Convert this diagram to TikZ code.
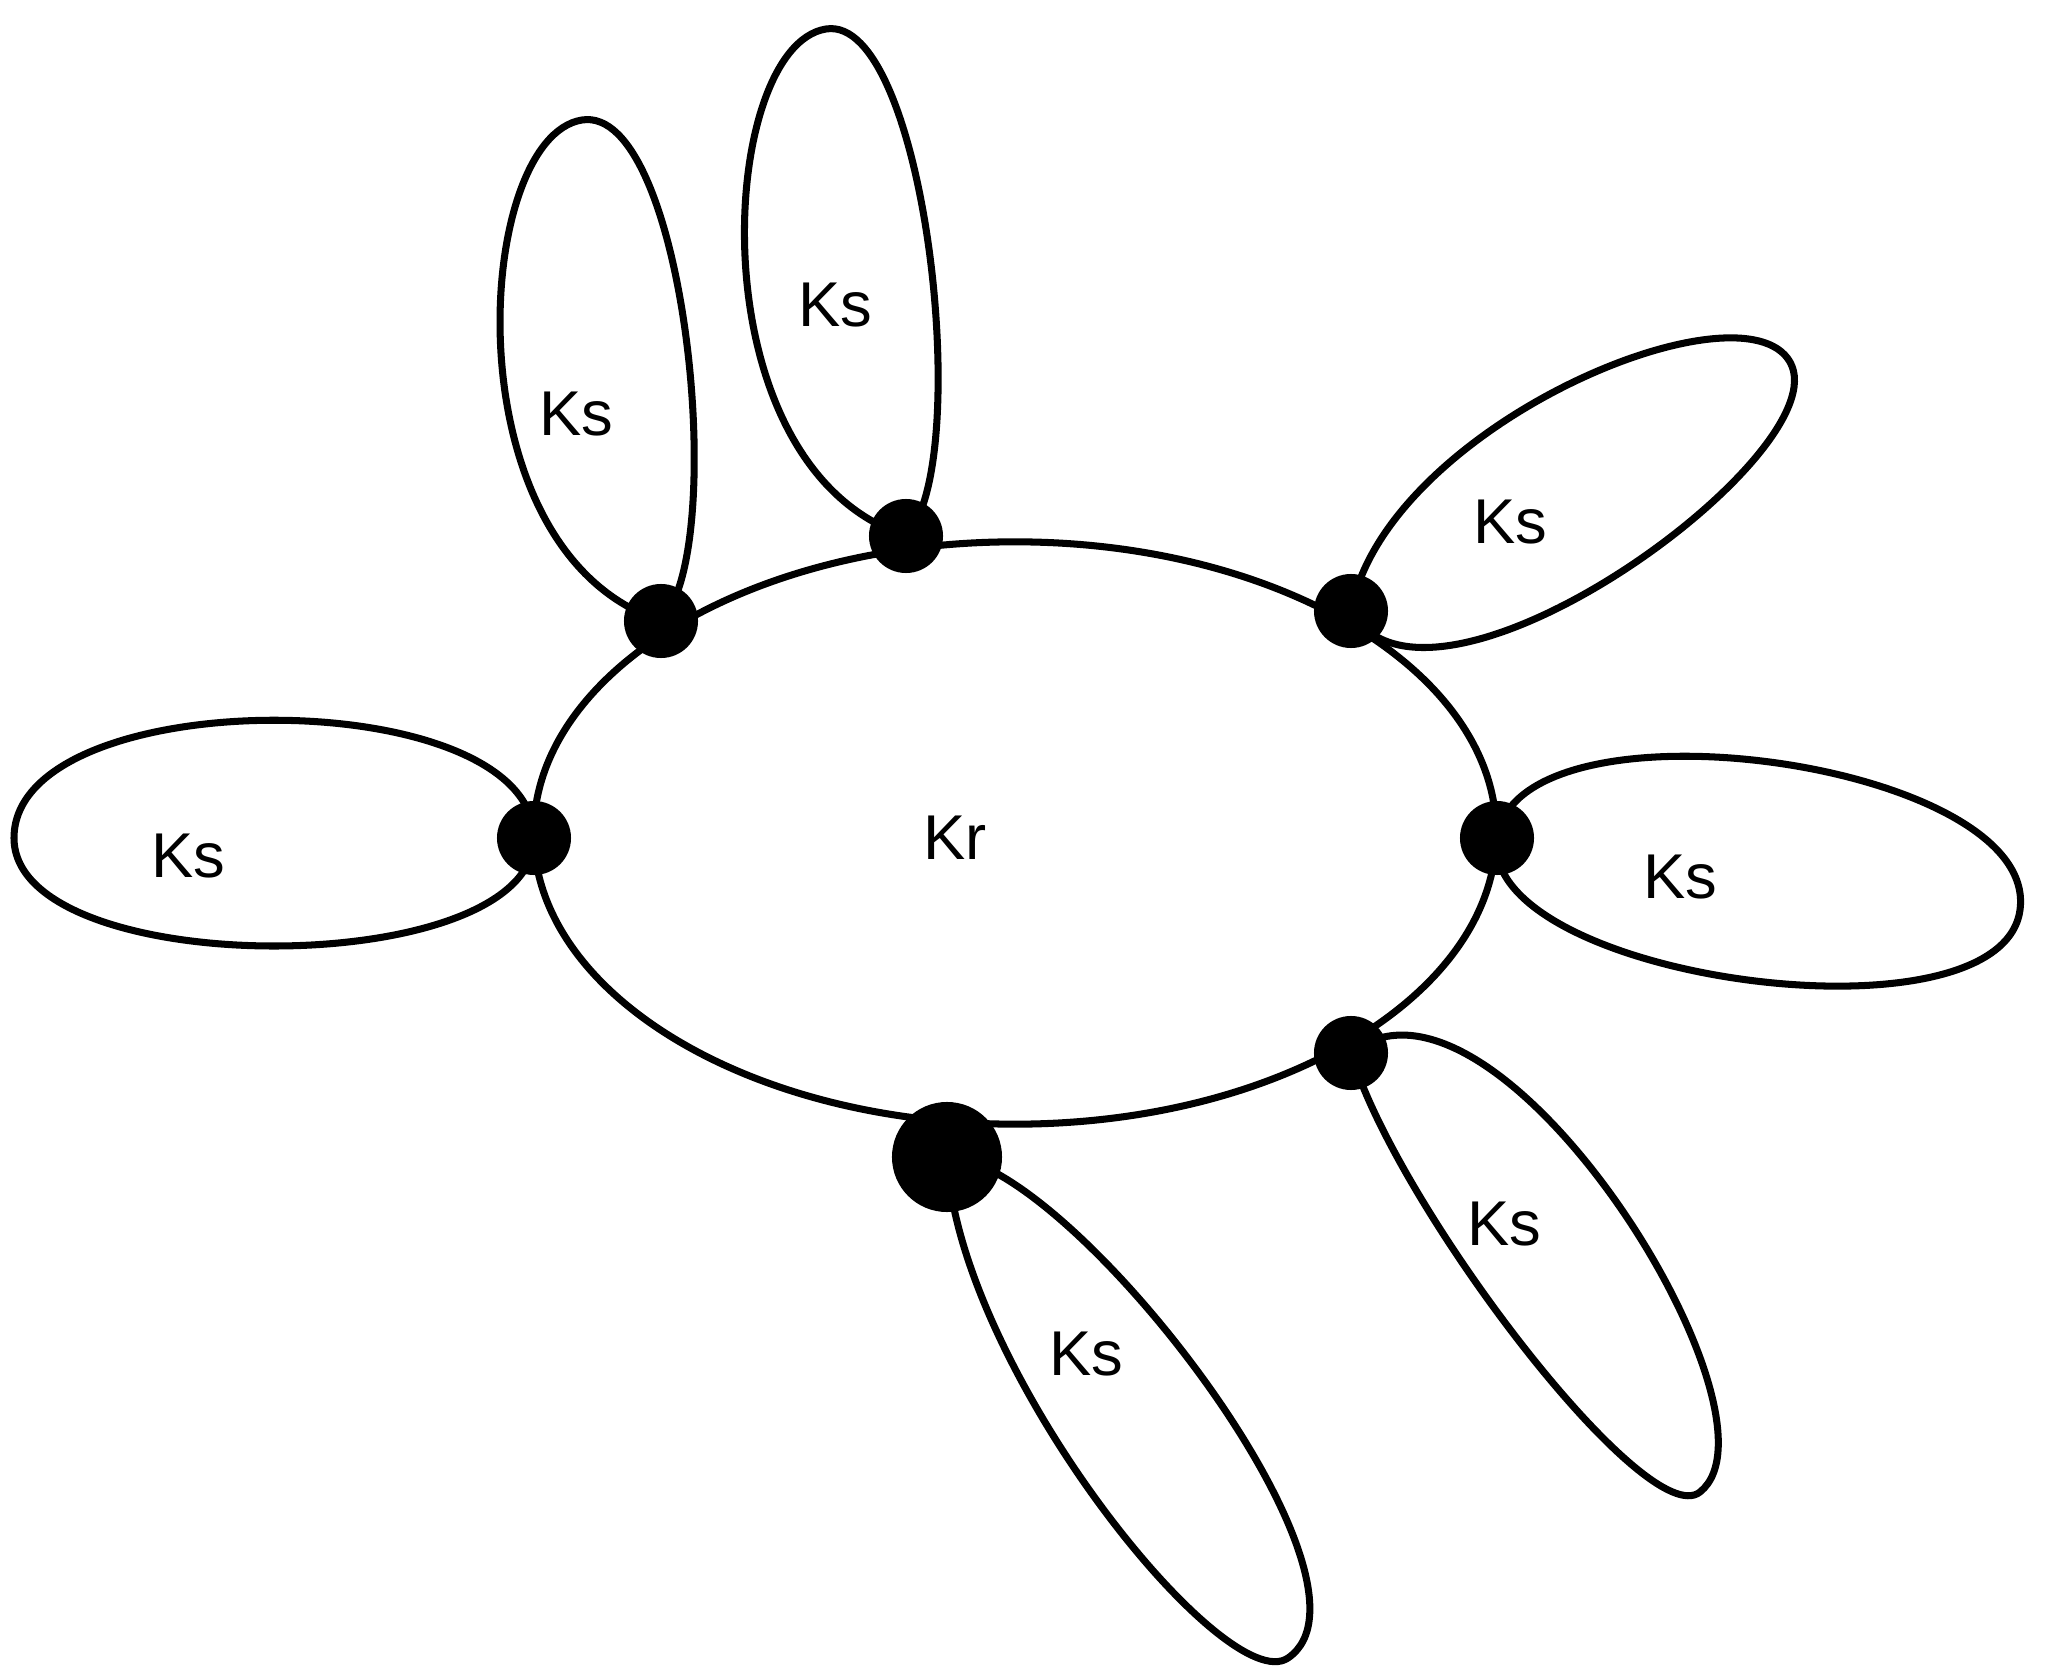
\documentclass[tikz,border=0pt]{standalone}
\usepackage{fontspec}
\setmainfont{Liberation Sans}
\usetikzlibrary{shapes.geometric}

\begin{document}
\begin{tikzpicture}[
    x=0.01cm, y=-0.01cm,
    line width=2pt,
    ring/.style={draw, ellipse, inner sep=0pt, minimum width=96.2mm, minimum height=58.2mm},
    dot/.style={circle, fill, inner sep=0pt, minimum size=7.4mm},
    bigdot/.style={dot, minimum size=11mm},
    ks/.style={font=\fontsize{18}{20}\selectfont, inner sep=0pt}
]
\useasboundingbox (0,0) rectangle (2047,1676);

% Centre ring
\node[ring] (kr) at (1015,833) {};
\node[ks] (krtext) at (955,838) {Kr};

% Joints on the ring
\node[dot] (d1) at (661,621) {};
\node[dot] (d2) at (906,536) {};
\node[dot] (d3) at (1351,611) {};
\node[dot] (d4) at (1497,838) {};
\node[dot] (d5) at (1351,1053) {};
\node[bigdot] (d6) at (947,1157) {};
\node[dot] (d7) at (534,838) {};

% Far ends of the petals
\coordinate (t1) at (582,120);
\coordinate (t2) at (826,29);
\coordinate (t3) at (1790,362);
\coordinate (t4) at (2020,910);
\coordinate (t5) at (1700,1492);
\coordinate (t6) at (1288,1658);
\coordinate (t7) at (14,838);

% Petals, each a loop from its joint back to it
\draw (d1.center) .. controls +(-46:100) and +(-9:104) .. (t1) .. controls +(171:110) and +(-162:224) .. (d1.center);
\draw (d2.center) .. controls +(-46:100) and +(-9:100) .. (t2) .. controls +(171:110) and +(-162:224) .. (d2.center);
\draw (d3.center) .. controls +(-79.4:187) and +(-119.6:97) .. (t3) .. controls +(60.4:105) and +(60.4:160) .. (d3.center);
\draw (d4.center) .. controls +(-82.2:150) and +(-82.2:150) .. (t4) .. controls +(97.8:142) and +(97.8:142) .. (d4.center);
\draw (d5.center) .. controls +(73.6:158) and +(141.3:68) .. (t5) .. controls +(-38.7:122) and +(-38.7:185) .. (d5.center);
\draw (d6.center) .. controls +(87.1:211) and +(145.7:75) .. (t6) .. controls +(-34.3:132) and +(0.7:122) .. (d6.center);
\draw (d7.center) .. controls +(-90:157) and +(-90:157) .. (t7) .. controls +(90:144) and +(90:144) .. (d7.center);

% Labels
\node[ks] (ks1) at (576,414) {Ks};
\node[ks] (ks2) at (835,305) {Ks};
\node[ks] (ks3) at (1510,522) {Ks};
\node[ks] (ks4) at (1680,877) {Ks};
\node[ks] (ks5) at (1504,1224) {Ks};
\node[ks] (ks6) at (1086,1354) {Ks};
\node[ks] (ks7) at (188,856) {Ks};

\end{tikzpicture}
\end{document}
